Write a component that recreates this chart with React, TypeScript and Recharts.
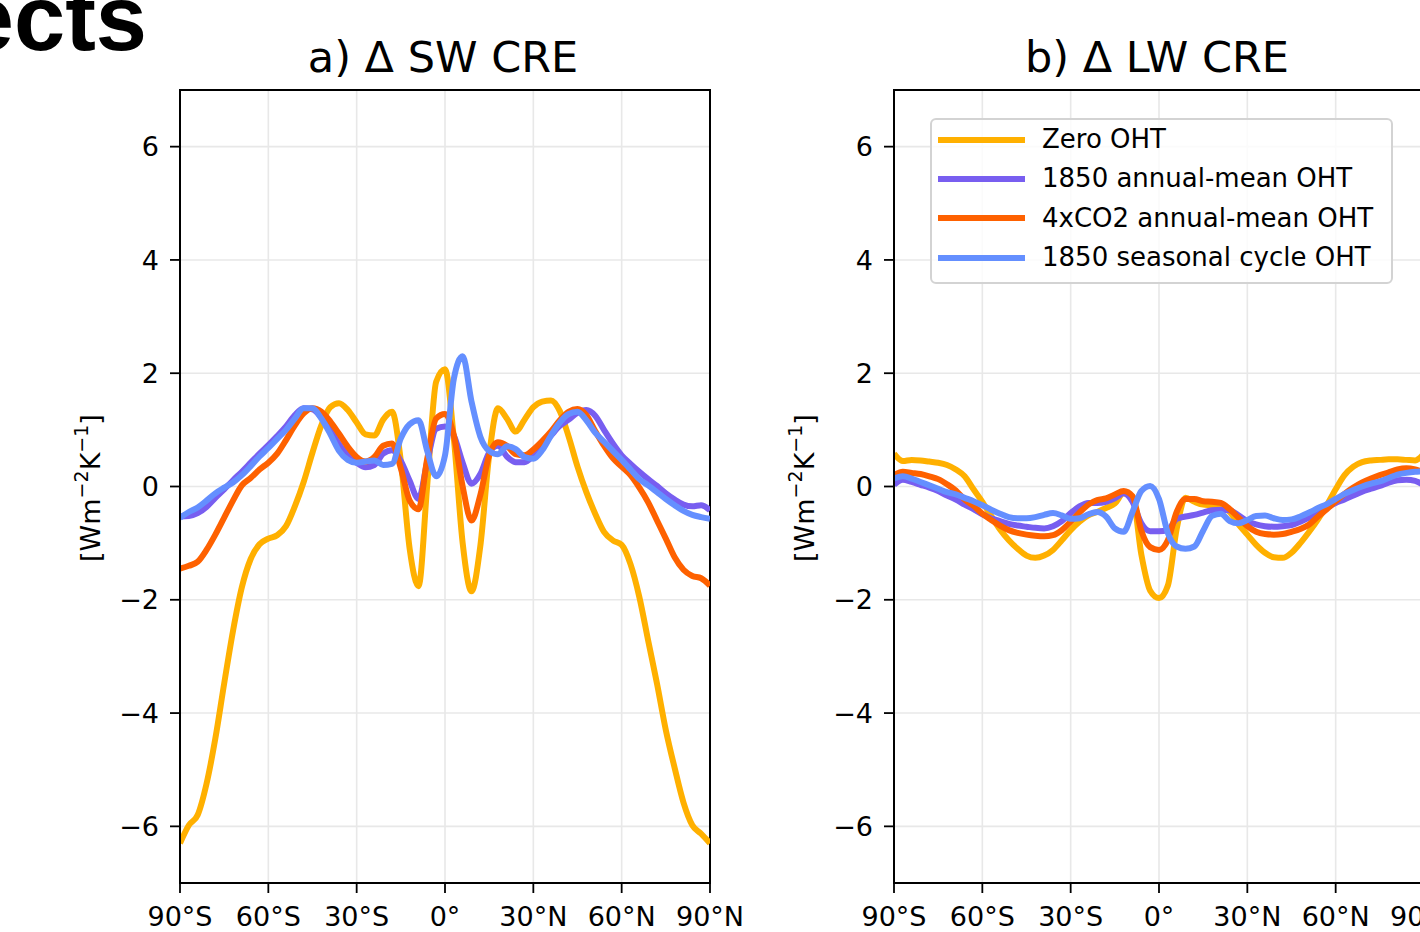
import {
  LineChart,
  Line,
  XAxis,
  YAxis,
  CartesianGrid,
  ReferenceArea,
  Legend,
} from "recharts";

// latitude grid (deg), shared by every series
const LATS = [
  -90, -87, -84, -81, -78, -75, -72, -69, -66, -63,
  -60, -57, -54, -51, -48, -45, -42, -39, -36, -33,
  -30, -27, -24, -21, -18, -15, -12, -9, -6, -3,
  0, 3, 6, 9, 12, 15, 18, 21, 24, 27,
  30, 33, 36, 39, 42, 45, 48, 51, 54, 57,
  60, 63, 66, 69, 72, 75, 78, 81, 84, 87,
  90,
];

const LAT_TICKS = [-90, -60, -30, 0, 30, 60, 90];
const LAT_LABELS = ["90°S", "60°S", "30°S", "0°", "30°N", "60°N", "90°N"];
const Y_TICKS = [-6, -4, -2, 0, 2, 4, 6];

const SERIES_NAMES = [
  "Zero OHT",
  "1850 annual-mean OHT",
  "4xCO2 annual-mean OHT",
  "1850 seasonal cycle OHT",
];

// a) delta SW CRE
const swZero = [
  -6.3, -5.98, -5.8, -5.25, -4.45, -3.48, -2.55, -1.78, -1.28, -1.02,
  -0.92, -0.86, -0.7, -0.35, 0.08, 0.6, 1.08, 1.4, 1.47, 1.35,
  1.13, 0.92, 0.9, 1.18, 1.32, 0.45, -1.1, -1.76, 0.05, 1.85,
  2.07, 0.85, -1.0, -1.85, -1.05, 0.55, 1.38, 1.2, 0.97, 1.18,
  1.4, 1.5, 1.52, 1.33, 0.88, 0.35, -0.1, -0.48, -0.8, -0.95,
  -1.03, -1.37, -1.95, -2.72, -3.48, -4.3, -4.97, -5.58, -5.98, -6.13,
  -6.3,
];
const swAnn1850 = [
  -0.53, -0.52, -0.47, -0.36, -0.2, -0.05, 0.11, 0.26, 0.42, 0.58,
  0.73, 0.89, 1.06, 1.26, 1.38, 1.36, 1.22, 1.0, 0.75, 0.55,
  0.42, 0.34, 0.38, 0.58, 0.64, 0.45, 0.1, -0.22, 0.45, 1.02,
  1.06, 0.9, 0.42, 0.05, 0.22, 0.6, 0.72, 0.53, 0.43, 0.43,
  0.55, 0.73, 0.9, 1.07, 1.18, 1.3, 1.35, 1.25, 1.0, 0.76,
  0.55, 0.4, 0.26, 0.13, 0.01, -0.12, -0.23, -0.32, -0.35, -0.33,
  -0.42,
];
const swAnn4x = [
  -1.45, -1.4, -1.33, -1.12, -0.85, -0.55, -0.25, 0.02, 0.15, 0.3,
  0.42, 0.58, 0.82, 1.08, 1.29, 1.38, 1.32, 1.15, 0.93, 0.7,
  0.52, 0.44, 0.52, 0.72, 0.76, 0.32, -0.25, -0.4, 0.5, 1.2,
  1.28, 0.9, 0.0, -0.6, -0.15, 0.55, 0.78, 0.72, 0.57, 0.55,
  0.65, 0.8, 0.97, 1.17, 1.32, 1.37, 1.26, 0.98, 0.72, 0.5,
  0.35, 0.2, -0.02, -0.28, -0.6, -0.92, -1.25, -1.47, -1.58, -1.62,
  -1.75,
];
const swSeas1850 = [
  -0.55, -0.45, -0.37, -0.25, -0.12, -0.02, 0.07, 0.2, 0.36, 0.53,
  0.68, 0.84, 1.0, 1.2, 1.38, 1.38, 1.2, 0.93, 0.63, 0.47,
  0.42, 0.44, 0.46, 0.38, 0.4, 0.85, 1.1, 1.17, 0.62, 0.18,
  0.55, 1.9, 2.3, 1.5, 0.88, 0.63, 0.57, 0.71, 0.66, 0.52,
  0.49, 0.64, 0.9, 1.13, 1.28, 1.32, 1.17, 0.95, 0.79, 0.63,
  0.47, 0.3, 0.13, 0.02, -0.1, -0.22, -0.33, -0.43, -0.5, -0.54,
  -0.57,
];

// b) delta LW CRE
const lwZero = [
  0.58, 0.45, 0.47, 0.46, 0.44, 0.42, 0.38, 0.3, 0.18, -0.05,
  -0.27, -0.52, -0.76, -0.95, -1.1, -1.22, -1.26, -1.22, -1.12, -0.95,
  -0.77, -0.62, -0.51, -0.45, -0.38, -0.3, -0.12, -0.18, -1.2, -1.84,
  -1.97, -1.75, -0.75, -0.2, -0.27, -0.32, -0.33, -0.36, -0.45, -0.67,
  -0.85, -1.03, -1.17, -1.25, -1.26, -1.17, -1.0, -0.8, -0.58, -0.33,
  -0.05, 0.2, 0.35, 0.43, 0.46, 0.47, 0.48, 0.48, 0.47, 0.46,
  0.58,
];
const lwAnn1850 = [
  0.03, 0.12, 0.08, 0.03, -0.02, -0.08, -0.16, -0.23, -0.32, -0.4,
  -0.49, -0.56, -0.61, -0.66, -0.69, -0.71, -0.73, -0.74, -0.7, -0.61,
  -0.47, -0.35, -0.29, -0.29, -0.27, -0.21, -0.12, -0.27, -0.65, -0.79,
  -0.79, -0.77, -0.57, -0.53, -0.5, -0.46, -0.42, -0.41, -0.42, -0.51,
  -0.61, -0.67, -0.7, -0.71, -0.7, -0.68, -0.62, -0.55, -0.46, -0.37,
  -0.29, -0.23, -0.16, -0.09, -0.04, 0.01, 0.07, 0.11, 0.12, 0.1,
  0.02,
];
const lwAnn4x = [
  0.2, 0.26, 0.24, 0.22, 0.18, 0.13, 0.04, -0.07, -0.23, -0.34,
  -0.48, -0.59, -0.69, -0.77, -0.82, -0.85, -0.87, -0.88, -0.86, -0.77,
  -0.62, -0.46, -0.32, -0.24, -0.21, -0.14, -0.08, -0.17, -0.78, -1.07,
  -1.12, -0.95, -0.45, -0.22, -0.22, -0.26, -0.27, -0.29, -0.4, -0.55,
  -0.7, -0.8, -0.84, -0.85, -0.84, -0.8, -0.75, -0.67, -0.53, -0.4,
  -0.26, -0.13, -0.02, 0.07, 0.14, 0.2, 0.25, 0.3, 0.32, 0.3,
  0.25,
];
const lwSeas1850 = [
  0.14, 0.18, 0.14, 0.08, 0.02, -0.04, -0.1, -0.14, -0.2, -0.26,
  -0.33, -0.41, -0.48, -0.54, -0.56, -0.56, -0.54, -0.5, -0.47, -0.51,
  -0.57, -0.56, -0.49, -0.45, -0.53, -0.74, -0.8, -0.45, -0.08, 0.01,
  -0.22, -0.82, -1.06, -1.1, -1.06, -0.78, -0.52, -0.48, -0.61, -0.65,
  -0.59, -0.52, -0.51, -0.56, -0.59, -0.58, -0.53, -0.46, -0.38, -0.31,
  -0.22, -0.13, -0.06, 0.0, 0.05, 0.09, 0.15, 0.21, 0.24, 0.26,
  0.27,
];

const COLORS = ["#FFB000", "#785EF0", "#FE6100", "#648FFF"];
const KEYS = ["zero", "ann1850", "ann4x", "seas1850"];

function buildRows(series: number[][]) {
  return LATS.map((lat, i) => {
    const row: Record<string, number> = { lat };
    KEYS.forEach((k, j) => {
      row[k] = series[j][i];
    });
    return row;
  });
}

const swRows = buildRows([swZero, swAnn1850, swAnn4x, swSeas1850]);
const lwRows = buildRows([lwZero, lwAnn1850, lwAnn4x, lwSeas1850]);

const FONT = "'DejaVu Sans', Verdana, sans-serif";
const tickStyle = { fontSize: 27, fill: "#000", fontFamily: FONT };

const fmtLat = (v: number) => LAT_LABELS[LAT_TICKS.indexOf(v)] ?? "";
const fmtY = (v: number) => (v < 0 ? `\u2212${Math.abs(v)}` : `${v}`);

function LegendBox({ payload }: { payload?: Array<{ value: string; color: string }> }) {
  // keep the plotting order, not the alphabetical one
  const items = [...(payload ?? [])].sort(
    (a, b) => SERIES_NAMES.indexOf(a.value) - SERIES_NAMES.indexOf(b.value)
  );
  return (
    <div
      style={{
        boxSizing: "border-box",
        width: 463,
        height: 166,
        border: "2px solid #d3d3d3",
        borderRadius: 6,
        background: "rgba(255,255,255,0.8)",
        fontFamily: FONT,
      }}
    >
      {items.map((entry) => (
        <div
          key={entry.value}
          style={{ display: "flex", alignItems: "center", height: 39.3 }}
        >
          <div
            style={{
              width: 87,
              height: 6,
              marginLeft: 6,
              background: entry.color,
            }}
          />
          <span
            style={{
              marginLeft: 17,
              fontSize: 26,
              lineHeight: "39px",
              color: "#000",
              whiteSpace: "nowrap",
            }}
          >
            {entry.value}
          </span>
        </div>
      ))}
    </div>
  );
}

function Panel({
  rows,
  left,
  legend,
}: {
  rows: Record<string, number>[];
  left: number;
  legend?: boolean;
}) {
  return (
    <div style={{ position: "absolute", left, top: 0, width: 770, height: 932 }}>
      <LineChart
        width={770}
        height={932}
        data={rows}
        margin={{ top: 90, right: 60, bottom: 9, left: 120 }}
      >
        <CartesianGrid stroke="#e8e8e8" strokeWidth={1.6} />
        <XAxis
          dataKey="lat"
          type="number"
          domain={[-90, 90]}
          ticks={LAT_TICKS}
          interval={0}
          tickFormatter={fmtLat}
          height={40}
          tickSize={10}
          tickMargin={14}
          axisLine={{ stroke: "#000", strokeWidth: 2 }}
          tickLine={{ stroke: "#000", strokeWidth: 1.8 }}
          tick={tickStyle}
          allowDataOverflow
        />
        <YAxis
          type="number"
          domain={[-7, 7]}
          ticks={Y_TICKS}
          interval={0}
          tickFormatter={fmtY}
          width={60}
          tickSize={10}
          tickMargin={11}
          axisLine={{ stroke: "#000", strokeWidth: 2 }}
          tickLine={{ stroke: "#000", strokeWidth: 1.8 }}
          tick={tickStyle}
          allowDataOverflow
        />
        {KEYS.map((k, j) => (
          <Line
            key={k}
            dataKey={k}
            name={SERIES_NAMES[j]}
            type="monotone"
            stroke={COLORS[j]}
            strokeWidth={6}
            dot={false}
            activeDot={false}
            isAnimationActive={false}
          />
        ))}
        <ReferenceArea
          x1={-90}
          x2={90}
          y1={-7}
          y2={7}
          fill="none"
          fillOpacity={0}
          stroke="#000"
          strokeWidth={2}
          ifOverflow="visible"
        />
        {legend && (
          <Legend
            layout="vertical"
            align="center"
            verticalAlign="middle"
            content={(props: any) => <LegendBox payload={props.payload} />}
            wrapperStyle={{ left: 216, top: 118, width: 463, height: 166 }}
          />
        )}
      </LineChart>
    </div>
  );
}

function YLabel({ x }: { x: number }) {
  return (
    <text
      transform="rotate(-90)"
      x={-488}
      y={x}
      textAnchor="middle"
      fontSize={27}
      fontFamily={FONT}
      fill="#000"
    >
      [Wm
      <tspan dy={-12} fontSize={19}>
        {"\u22122"}
      </tspan>
      <tspan dy={12}>K</tspan>
      <tspan dy={-12} fontSize={19}>
        {"\u22121"}
      </tspan>
      <tspan dy={12}>]</tspan>
    </text>
  );
}

export default function App() {
  return (
    <div
      style={{
        position: "absolute",
        left: 0,
        top: 0,
        width: 1420,
        height: 932,
        overflow: "hidden",
        background: "#fff",
        fontFamily: FONT,
      }}
    >
      <Panel rows={swRows} left={0} />
      <Panel rows={lwRows} left={714} legend />
      <svg
        width={1420}
        height={932}
        style={{ position: "absolute", left: 0, top: 0, pointerEvents: "none" }}
      >
        <text
          x={147}
          y={50}
          textAnchor="end"
          fontFamily="'Liberation Sans', Arial, sans-serif"
          fontWeight="bold"
          fontSize={92}
          fill="#000"
        >
          ects
        </text>
        <text x={443} y={72} textAnchor="middle" fontSize={43} fontFamily={FONT} fill="#000">
          a) Δ SW CRE
        </text>
        <text x={1157} y={72} textAnchor="middle" fontSize={43} fontFamily={FONT} fill="#000">
          b) Δ LW CRE
        </text>
        <YLabel x={100} />
        <YLabel x={814} />
      </svg>
    </div>
  );
}
